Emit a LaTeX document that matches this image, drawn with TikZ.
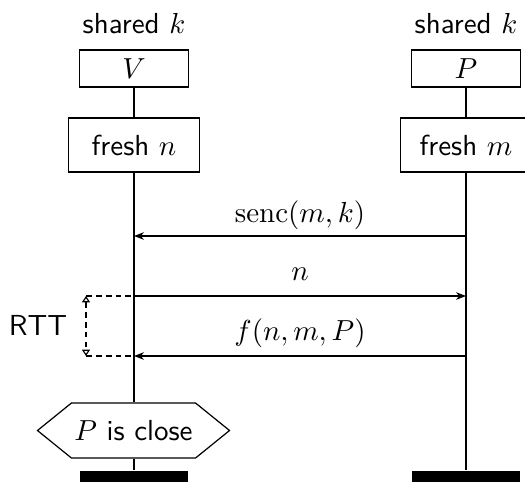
\documentclass[tikz,border=0pt]{standalone}
\usetikzlibrary{arrows.meta,shapes.symbols}
\begin{document}
\begin{tikzpicture}[x=0.345pt,y=-0.345pt,font=\sffamily,
  thin line/.style={line width=0.42pt},
  agentbox/.style={draw,thin line,inner sep=0pt,minimum width=37.6pt,minimum height=12.8pt},
  actionbox/.style={draw,thin line,inner sep=0pt,minimum width=45.2pt,minimum height=18.6pt},
  claimbox/.style={draw,thin line,signal,signal to=west and east,signal pointer angle=78,
    minimum height=19pt,inner xsep=1pt,inner ysep=0pt},
  endbar/.style={fill=black,draw=none,inner sep=0pt,minimum width=37.6pt,minimum height=5pt,anchor=north},
  msg/.style={thin line,-{Stealth[length=3.4pt,width=2.6pt,inset=1pt]}},
  rttline/.style={thin line,dash pattern=on 2pt off 1.4pt},
  rtttip/.tip={Triangle[open,length=2.2pt,width=2.8pt]}]
\useasboundingbox (0,0) rectangle (525,481);

% verifier V
\node[anchor=base] (sharedV) at (134,33) {shared $k$};
\node[agentbox] (V) at (134,68.5) {$V$};
\node[actionbox] (freshN) at (134,145) {fresh $n$};
\node[claimbox] (close) at (133.5,430.5) {$P$ is close};
\node[endbar] (endV) at (134,470) {};

% prover P
\node[anchor=base] (sharedP) at (466,33) {shared $k$};
\node[agentbox] (P) at (466,68.5) {$P$};
\node[actionbox] (freshM) at (466,145) {fresh $m$};
\node[endbar] (endP) at (466,470) {};

% lifelines (kept strictly vertical)
\draw[thin line] (V) -- (freshN);
\draw[thin line] (freshN.south) -- (freshN.south |- close.north);
\draw[thin line] (freshN.south |- close.south) -- (endV.north);
\draw[thin line] (P) -- (freshM);
\draw[thin line] (freshM) -- (endP);

% message end points on the lifelines
\coordinate (v1) at (134,236);
\coordinate (p1) at (466,236);
\coordinate (v2) at (134,296);
\coordinate (p2) at (466,296);
\coordinate (v3) at (134,356);
\coordinate (p3) at (466,356);

% messages
\draw[msg] (p1) -- (v1);
\node[anchor=base] (m1) at (300,222) {$\mathrm{senc}(m,k)$};
\draw[msg] (v2) -- (p2);
\node[anchor=base] (m2) at (300,280) {$n$};
\draw[msg] (p3) -- (v3);
\node[anchor=base] (m3) at (300,340) {$f(n,m,P)$};

% round-trip time
\coordinate (r1) at (86,296);
\coordinate (r2) at (86,356);
\draw[rttline] (r1) -- (v2);
\draw[rttline] (r2) -- (v3);
\draw[rttline,rtttip-rtttip] (r1) -- (r2);
\node[anchor=base] (rtt) at (38,335) {RTT};
\end{tikzpicture}
\end{document}
